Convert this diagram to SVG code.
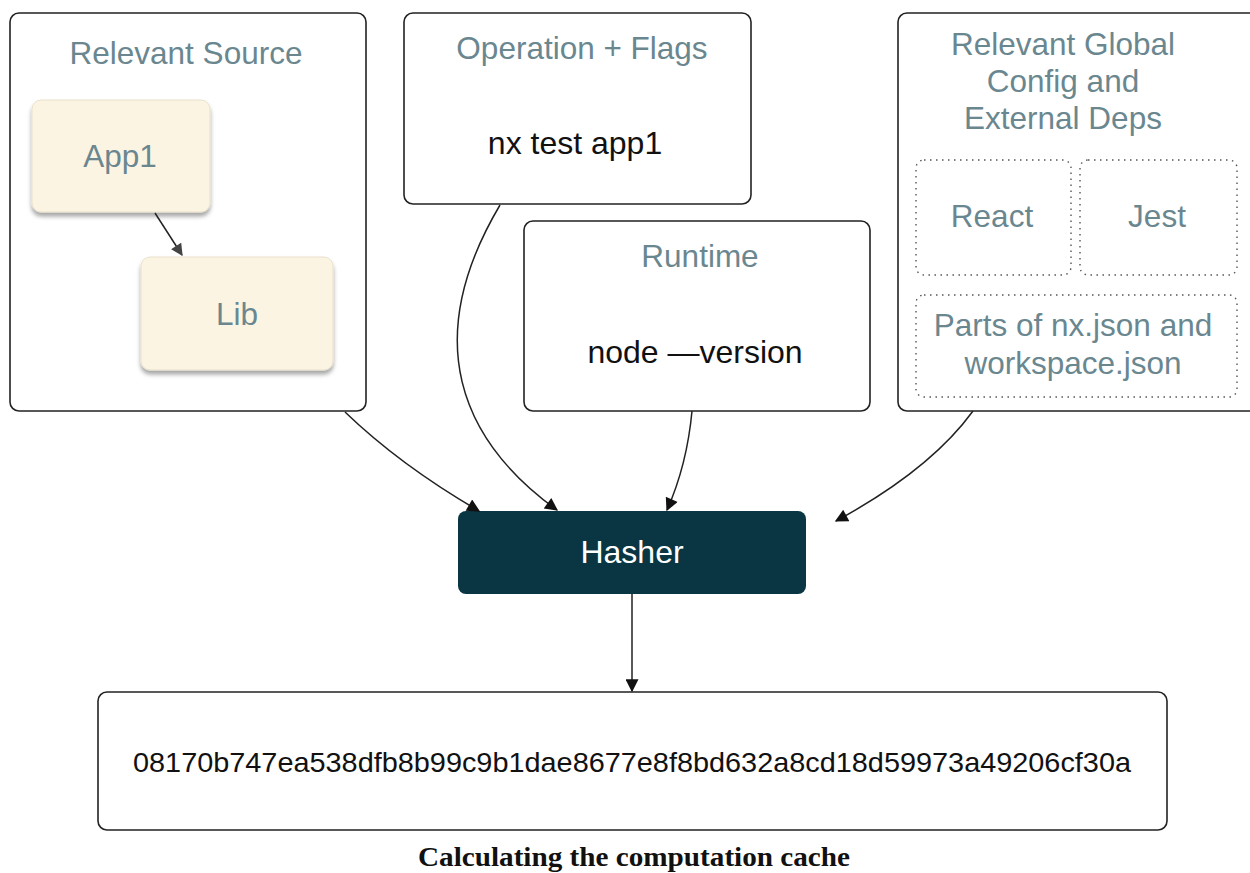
<svg xmlns="http://www.w3.org/2000/svg" width="1250" height="873" viewBox="0 0 1250 873">
<style>
.box{fill:#fff;stroke:#222;stroke-width:1.6}
.dot{fill:none;stroke:#555;stroke-width:1.4;stroke-dasharray:1.5 4.5}
.pkg{fill:#fcf4e2;stroke:#e8e0cc;stroke-width:1}
.t{font-family:"Liberation Sans",Arial,sans-serif;text-anchor:middle}
.g{fill:#6a8790;font-size:31.5px}
.k{fill:#111;font-size:32px}
.conn{fill:none;stroke:#222;stroke-width:1.5}
</style>
<defs>
<marker id="ah" viewBox="0 0 10 10" refX="9" refY="5" markerWidth="16" markerHeight="13" markerUnits="userSpaceOnUse" orient="auto"><path d="M0,0L10,5L0,10z" fill="#111"/></marker>
<marker id="ahg" viewBox="0 0 10 10" refX="9" refY="5" markerWidth="13" markerHeight="12" markerUnits="userSpaceOnUse" orient="auto"><path d="M0,0L10,5L0,10z" fill="#444"/></marker>
<filter id="sh" x="-10%" y="-10%" width="130%" height="130%"><feDropShadow dx="0" dy="4" stdDeviation="2" flood-color="#000" flood-opacity="0.35"/></filter>
</defs>
<rect width="1250" height="873" fill="#fff"/>

<g id="source">
<rect class="box" x="10" y="13" width="356" height="398" rx="9"/>
<text class="t g" x="186" y="64">Relevant Source</text>
</g>
<g id="app1">
<rect class="pkg" x="32" y="100" width="178" height="112" rx="9" filter="url(#sh)"/>
<text class="t g" x="120" y="167">App1</text>
</g>
<g id="lib">
<rect class="pkg" x="141" y="257" width="192" height="113" rx="9" filter="url(#sh)"/>
<text class="t g" x="237" y="325">Lib</text>
</g>

<g id="operation">
<rect class="box" x="404" y="13" width="347" height="191" rx="9"/>
<text class="t g" x="582" y="59">Operation + Flags</text>
<text class="t k" x="575" y="154">nx test app1</text>
</g>

<g id="runtime">
<rect class="box" x="524" y="221" width="346" height="190" rx="9"/>
<text class="t g" x="700" y="267">Runtime</text>
<text class="t k" x="695" y="363">node —version</text>
</g>

<g id="global">
<rect class="box" x="898" y="13" width="360" height="398" rx="9"/>
<text class="t g" x="1063" y="55">Relevant Global</text>
<text class="t g" x="1063" y="92">Config and</text>
<text class="t g" x="1063" y="129">External Deps</text>
</g>
<g id="react">
<rect class="dot" x="916" y="160" width="155" height="115" rx="8"/>
<text class="t g" x="992" y="227">React</text>
</g>
<g id="jest">
<rect class="dot" x="1080" y="160" width="157" height="115" rx="8"/>
<text class="t g" x="1157" y="227">Jest</text>
</g>
<g id="parts">
<rect class="dot" x="916" y="295" width="321" height="102" rx="8"/>
<text class="t g" x="1073" y="336">Parts of nx.json and</text>
<text class="t g" x="1073" y="374">workspace.json</text>
</g>

<g id="hasher">
<rect x="458" y="511" width="348" height="83" rx="8" fill="#0a3542"/>
<text class="t" x="632" y="563" fill="#fff" font-size="32">Hasher</text>
</g>

<g id="output">
<rect class="box" x="98" y="692" width="1069" height="138" rx="9"/>
<text class="t" x="632" y="772" fill="#111" font-size="28.5" textLength="998" lengthAdjust="spacingAndGlyphs">08170b747ea538dfb8b99c9b1dae8677e8f8bd632a8cd18d59973a49206cf30a</text>
</g>

<g id="connectors">
<path class="conn" d="M155,213 L182,255" stroke="#444" marker-end="url(#ahg)"/>
<path class="conn" d="M345,412 Q400,465 479,511" marker-end="url(#ah)"/>
<path class="conn" d="M500,205 C420,340 460,440 557,510" marker-end="url(#ah)"/>
<path class="conn" d="M692,411 Q687,465 667,510" marker-end="url(#ah)"/>
<path class="conn" d="M973,411 Q930,470 836,521" marker-end="url(#ah)"/>
<path class="conn" d="M632,594 L632,691" marker-end="url(#ah)"/>
</g>

<text x="634" y="866" text-anchor="middle" font-family="'Liberation Serif',serif" font-weight="bold" font-size="27" fill="#111" textLength="432" lengthAdjust="spacingAndGlyphs">Calculating the computation cache</text>
</svg>
